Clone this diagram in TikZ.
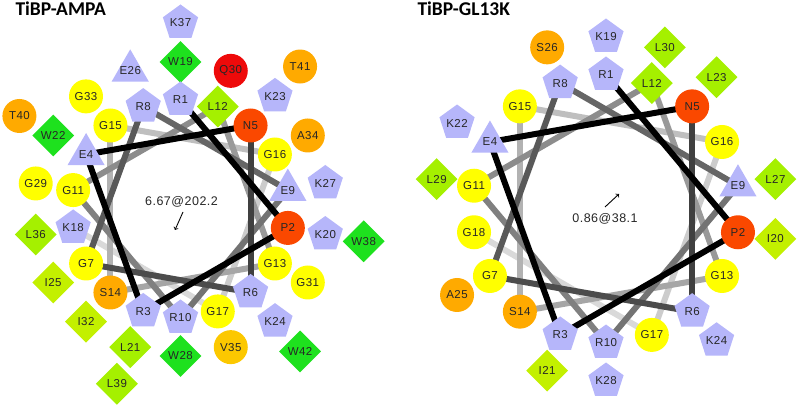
\documentclass[tikz,border=0pt]{standalone}
\usepackage{fontspec}
\setmainfont{Liberation Sans}
\newfontfamily\labfam[LetterSpace=4]{Liberation Sans}
\newfontfamily\titlefont{Carlito}
\usetikzlibrary{shapes.geometric,backgrounds}

\definecolor{lav}{RGB}{182,182,250}
\definecolor{gly}{RGB}{255,255,0}
\definecolor{polar}{RGB}{255,170,0}
\definecolor{val}{RGB}{252,200,0}
\definecolor{hot}{RGB}{250,72,0}
\definecolor{gln}{RGB}{238,10,10}
\definecolor{trp}{RGB}{30,225,30}
\definecolor{leu}{RGB}{165,240,0}
\definecolor{ile}{RGB}{195,240,0}

\newcommand{\labfont}{\labfam\fontsize{11.5}{12}\selectfont}
\newcommand{\hdfont}{\titlefont\bfseries\fontsize{19.5}{21}\selectfont}

\begin{document}
\begin{tikzpicture}[x=1pt,y=1pt,
  every node/.style={font=\labfont,text=black!85},
  pent/.style={regular polygon,regular polygon sides=5,minimum size=37pt,inner sep=-1pt,fill=lav},
  tri/.style={regular polygon,regular polygon sides=3,minimum size=43pt,inner sep=-4pt,fill=lav},
  dmd/.style={diamond,minimum width=42pt,minimum height=42pt,inner sep=0pt,fill=#1},
  ball/.style={circle,minimum size=34pt,inner sep=0pt,fill=#1},
  bond/.style={line width=6pt,draw=black!#1}]
\useasboundingbox (0,0) rectangle (800,411);

\node[anchor=base west,font=\hdfont,text=black] (t1) at (12,395) {TiBP-AMPA};
\node[anchor=base west,font=\hdfont,text=black] (t2) at (414,395) {TiBP-GL13K};

% TiBP-AMPA
\begin{scope}[shift={(180.5,202)}]
\node[pent] (a37) at (90:186) {K37};
\node[dmd=trp] (a38) at (350:186) {W38};
\node[dmd=leu] (a39) at (250:186) {L39};
\node[ball=polar] (a40) at (150:186) {T40};
\node[ball=polar] (a41) at (50:186) {T41};
\node[dmd=trp] (a42) at (310:186) {W42};

\node[dmd=trp] (a19) at (90:147) {W19};
\node[pent] (a20) at (350:147) {K20};
\node[dmd=leu] (a21) at (250:147) {L21};
\node[dmd=trp] (a22) at (150:147) {W22};
\node[pent] (a23) at (50:147) {K23};
\node[pent] (a24) at (310:147) {K24};
\node[dmd=ile] (a25) at (210:147) {I25};
\node[tri] (a26) at (110:147) {E26};
\node[pent] (a27) at (10:147) {K27};
\node[dmd=trp] (a28) at (270:147) {W28};
\node[ball=gly] (a29) at (170:147) {G29};
\node[ball=gln] (a30) at (70:147) {Q30};
\node[ball=gly] (a31) at (330:147) {G31};
\node[dmd=ile] (a32) at (230:147) {I32};
\node[ball=gly] (a33) at (130:147) {G33};
\node[ball=polar] (a34) at (30:147) {A34};
\node[ball=val] (a35) at (290:147) {V35};
\node[dmd=leu] (a36) at (190:147) {L36};

\node[pent] (a1) at (90:109) {R1};
\node[ball=hot] (a2) at (350:109) {P2};
\node[pent] (a3) at (250:109) {R3};
\node[tri] (a4) at (150:109) {E4};
\node[ball=hot] (a5) at (50:109) {N5};
\node[pent] (a6) at (310:109) {R6};
\node[ball=gly] (a7) at (210:109) {G7};
\node[pent] (a8) at (110:109) {R8};
\node[tri] (a9) at (10:109) {E9};
\node[pent] (a10) at (270:109) {R10};
\node[ball=gly] (a11) at (170:109) {G11};
\node[dmd=leu] (a12) at (70:109) {L12};
\node[ball=gly] (a13) at (330:109) {G13};
\node[ball=polar] (a14) at (230:109) {S14};
\node[ball=gly] (a15) at (130:109) {G15};
\node[ball=gly] (a16) at (30:109) {G16};
\node[ball=gly] (a17) at (290:109) {G17};
\node[pent] (a18) at (190:109) {K18};
\end{scope}

\begin{pgfonlayer}{background}
\draw[bond=15] (a17.center) -- (a18.center);
\draw[bond=20] (a16.center) -- (a17.center);
\draw[bond=25] (a15.center) -- (a16.center);
\draw[bond=30] (a14.center) -- (a15.center);
\draw[bond=35] (a13.center) -- (a14.center);
\draw[bond=40] (a12.center) -- (a13.center);
\draw[bond=45] (a11.center) -- (a12.center);
\draw[bond=50] (a10.center) -- (a11.center);
\draw[bond=55] (a9.center) -- (a10.center);
\draw[bond=60] (a8.center) -- (a9.center);
\draw[bond=65] (a7.center) -- (a8.center);
\draw[bond=70] (a6.center) -- (a7.center);
\draw[bond=75] (a5.center) -- (a6.center);
\draw[bond=100] (a4.center) -- (a5.center);
\draw[bond=100] (a3.center) -- (a4.center);
\draw[bond=100] (a2.center) -- (a3.center);
\draw[bond=100] (a1.center) -- (a2.center);
\end{pgfonlayer}

\node[font=\labfam\fontsize{12.5}{14}\selectfont] (ma) at (181.5,209) {6.67@202.2};
\coordinate (maTail) at (183,199);
\coordinate (maHead) at (175,181);
\draw[->,line width=0.9pt] (maTail) -- (maHead);

% TiBP-GL13K
\begin{scope}[shift={(606,202)}]
\node[pent] (b19) at (90:172) {K19};
\node[dmd=ile] (b20) at (350:172) {I20};
\node[dmd=ile] (b21) at (250:172) {I21};
\node[pent] (b22) at (150:172) {K22};
\node[dmd=leu] (b23) at (50:172) {L23};
\node[pent] (b24) at (310:172) {K24};
\node[ball=polar] (b25) at (210:172) {A25};
\node[ball=polar] (b26) at (110:172) {S26};
\node[dmd=leu] (b27) at (10:172) {L27};
\node[pent] (b28) at (270:172) {K28};
\node[dmd=leu] (b29) at (170:172) {L29};
\node[dmd=leu] (b30) at (70:172) {L30};

\node[pent] (b1) at (90:134) {R1};
\node[ball=hot] (b2) at (350:134) {P2};
\node[pent] (b3) at (250:134) {R3};
\node[tri] (b4) at (150:134) {E4};
\node[ball=hot] (b5) at (50:134) {N5};
\node[pent] (b6) at (310:134) {R6};
\node[ball=gly] (b7) at (210:134) {G7};
\node[pent] (b8) at (110:134) {R8};
\node[tri] (b9) at (10:134) {E9};
\node[pent] (b10) at (270:134) {R10};
\node[ball=gly] (b11) at (170:134) {G11};
\node[dmd=leu] (b12) at (70:134) {L12};
\node[ball=gly] (b13) at (330:134) {G13};
\node[ball=polar] (b14) at (230:134) {S14};
\node[ball=gly] (b15) at (130:134) {G15};
\node[ball=gly] (b16) at (30:134) {G16};
\node[ball=gly] (b17) at (290:134) {G17};
\node[ball=gly] (b18) at (190:134) {G18};
\end{scope}

\begin{pgfonlayer}{background}
\draw[bond=15] (b17.center) -- (b18.center);
\draw[bond=20] (b16.center) -- (b17.center);
\draw[bond=25] (b15.center) -- (b16.center);
\draw[bond=30] (b14.center) -- (b15.center);
\draw[bond=35] (b13.center) -- (b14.center);
\draw[bond=40] (b12.center) -- (b13.center);
\draw[bond=45] (b11.center) -- (b12.center);
\draw[bond=50] (b10.center) -- (b11.center);
\draw[bond=55] (b9.center) -- (b10.center);
\draw[bond=60] (b8.center) -- (b9.center);
\draw[bond=65] (b7.center) -- (b8.center);
\draw[bond=70] (b6.center) -- (b7.center);
\draw[bond=75] (b5.center) -- (b6.center);
\draw[bond=100] (b4.center) -- (b5.center);
\draw[bond=100] (b3.center) -- (b4.center);
\draw[bond=100] (b2.center) -- (b3.center);
\draw[bond=100] (b1.center) -- (b2.center);
\end{pgfonlayer}

\node[font=\labfam\fontsize{12.5}{14}\selectfont] (mb) at (605,192) {0.86@38.1};
\coordinate (mbTail) at (605,204);
\coordinate (mbHead) at (619,217);
\draw[->,line width=0.9pt] (mbTail) -- (mbHead);

\end{tikzpicture}
\end{document}
